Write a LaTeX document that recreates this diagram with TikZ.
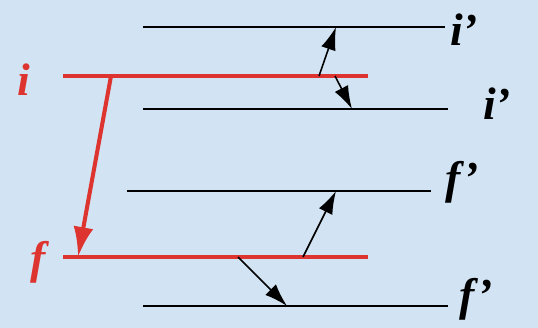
\documentclass[tikz,border=0pt]{standalone}
\usepackage{fontspec}
\setmainfont{Liberation Serif}
\usepackage{xcolor}
\usetikzlibrary{arrows.meta}

\definecolor{bgblue}{RGB}{210,228,243}
\definecolor{lvlred}{RGB}{222,52,48}

\begin{document}
\begin{tikzpicture}[
    x=0.02cm, y=0.02cm,
    % black levels of the perturbing partner
    level/.style={line width=1.1pt, black},
    % red levels of the emitter
    redlevel/.style={line width=2.3pt, lvlred},
    lab/.style={font=\fontsize{26}{30}\selectfont\bfseries\itshape, inner sep=0pt},
    jump/.style={-{Latex[length=6mm, width=4mm]}, line width=2.3pt, lvlred},
    arrow/.style={-{Latex[length=4.6mm, width=3mm]}, line width=0.9pt}
]

\fill[bgblue] (0,0) rectangle (538,328);

% level end points
\coordinate (ipa) at (143,301);  \coordinate (ipb) at (445,301);
\coordinate (ia)  at (63,252);   \coordinate (ib)  at (368,252);
\coordinate (ipc) at (143,219);  \coordinate (ipd) at (448,219);
\coordinate (fpa) at (127,137);  \coordinate (fpb) at (431,137);
\coordinate (fa)  at (63,71);    \coordinate (fb)  at (368,71);
\coordinate (fpc) at (143,22);   \coordinate (fpd) at (448,22);

\draw[level] (ipa) -- (ipb);
\draw[redlevel] (ia) -- (ib);
\draw[level] (ipc) -- (ipd);
\draw[level] (fpa) -- (fpb);
\draw[redlevel] (fa) -- (fb);
\draw[level] (fpc) -- (fpd);

\node[lab] (iup)   at (464,298) {i’};
\node[lab, lvlred] (ilab) at (24,248) {i};
\node[lab] (idown) at (497,224) {i’};
\node[lab] (fup)   at (462,146) {f’};
\node[lab, lvlred] (flab) at (38,66) {f};
\node[lab] (fdown) at (476,29) {f’};

% arrow feet and tips
\coordinate (j0) at (111,252);  \coordinate (j1) at (78,71);
\coordinate (u0) at (319,252);  \coordinate (u1) at (336,301);
\coordinate (d0) at (335,252);  \coordinate (d1) at (352,219);
\coordinate (v0) at (303,71);   \coordinate (v1) at (336,137);
\coordinate (w0) at (238,71);   \coordinate (w1) at (287,22);

\draw[jump] (j0) -- (j1);
\draw[arrow] (u0) -- (u1);
\draw[arrow] (d0) -- (d1);
\draw[arrow] (v0) -- (v1);
\draw[arrow] (w0) -- (w1);

\end{tikzpicture}
\end{document}
